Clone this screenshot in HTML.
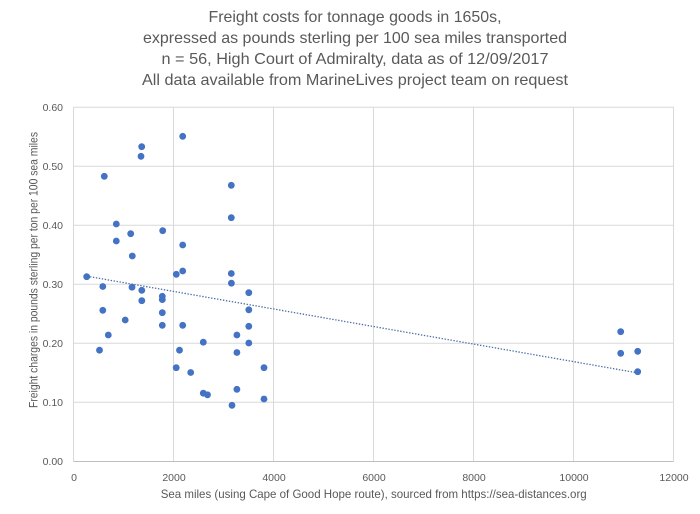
<!DOCTYPE html>
<html><head><meta charset="utf-8"><style>
html,body{margin:0;padding:0;background:#fff;}
svg{display:block;}
text{font-family:"Liberation Sans",Arial,sans-serif;fill:#595959;}
</style></head><body>
<svg width="700" height="514" viewBox="0 0 700 514" xmlns="http://www.w3.org/2000/svg">
<rect width="700" height="514" fill="#fff"/>
<g font-size="16" text-anchor="middle">
<text x="355" y="22" textLength="293" lengthAdjust="spacingAndGlyphs">Freight costs for tonnage goods in 1650s,</text>
<text x="355" y="43" textLength="424" lengthAdjust="spacingAndGlyphs">expressed as pounds sterling per 100 sea miles transported</text>
<text x="355" y="64" textLength="387" lengthAdjust="spacingAndGlyphs">n = 56, High Court of Admiralty, data as of 12/09/2017</text>
<text x="355" y="85" textLength="426" lengthAdjust="spacingAndGlyphs">All data available from MarineLives project team on request</text>
</g>
<g stroke="#d9d9d9" stroke-width="1" fill="none">
<line x1="73.5" y1="107.3" x2="673.5" y2="107.3"/>
<line x1="73.5" y1="166.3" x2="673.5" y2="166.3"/>
<line x1="73.5" y1="225.3" x2="673.5" y2="225.3"/>
<line x1="73.5" y1="284.3" x2="673.5" y2="284.3"/>
<line x1="73.5" y1="343.3" x2="673.5" y2="343.3"/>
<line x1="73.5" y1="402.3" x2="673.5" y2="402.3"/>
<line x1="73.5" y1="107" x2="73.5" y2="461.5"/>
<line x1="173.5" y1="107" x2="173.5" y2="461.5"/>
<line x1="273.5" y1="107" x2="273.5" y2="461.5"/>
<line x1="373.5" y1="107" x2="373.5" y2="461.5"/>
<line x1="473.5" y1="107" x2="473.5" y2="461.5"/>
<line x1="573.5" y1="107" x2="573.5" y2="461.5"/>
<line x1="673.5" y1="107" x2="673.5" y2="461.5"/>
</g>
<line x1="73.5" y1="461.5" x2="673.5" y2="461.5" stroke="#bfbfbf" stroke-width="1"/>
<g font-size="10.5" text-anchor="end">
<text x="63" y="111">0.60</text>
<text x="63" y="170">0.50</text>
<text x="63" y="229">0.40</text>
<text x="63" y="288">0.30</text>
<text x="63" y="347">0.20</text>
<text x="63" y="406">0.10</text>
<text x="63" y="465">0.00</text>
</g>
<g font-size="10.5" text-anchor="middle">
<text x="74" y="481">0</text>
<text x="174" y="481">2000</text>
<text x="274" y="481">4000</text>
<text x="374" y="481">6000</text>
<text x="474" y="481">8000</text>
<text x="574" y="481">10000</text>
<text x="674" y="481">12000</text>
</g>
<text x="373.7" y="498" font-size="12" text-anchor="middle" textLength="426" lengthAdjust="spacingAndGlyphs">Sea miles (using Cape of Good Hope route), sourced from https://sea-distances.org</text>
<text transform="translate(37.5,270) rotate(-90)" font-size="12" text-anchor="middle" textLength="276" lengthAdjust="spacingAndGlyphs">Freight charges in pounds sterling per ton per 100 sea miles</text>
<g fill="#4472c4">
<circle cx="86.7" cy="276.7" r="3.4"/>
<circle cx="104.3" cy="176.3" r="3.4"/>
<circle cx="141.7" cy="146.7" r="3.4"/>
<circle cx="141" cy="156.3" r="3.4"/>
<circle cx="182.7" cy="136.3" r="3.4"/>
<circle cx="116.3" cy="224" r="3.4"/>
<circle cx="116.3" cy="241" r="3.4"/>
<circle cx="130.7" cy="233.7" r="3.4"/>
<circle cx="162.7" cy="230.7" r="3.4"/>
<circle cx="132.3" cy="256" r="3.4"/>
<circle cx="182.7" cy="245" r="3.4"/>
<circle cx="176.3" cy="274.3" r="3.4"/>
<circle cx="182.7" cy="271" r="3.4"/>
<circle cx="231.3" cy="185.3" r="3.4"/>
<circle cx="231.3" cy="217.7" r="3.4"/>
<circle cx="231.3" cy="273.5" r="3.4"/>
<circle cx="231.4" cy="283.2" r="3.4"/>
<circle cx="102.8" cy="286.5" r="3.4"/>
<circle cx="132" cy="287.2" r="3.4"/>
<circle cx="141.8" cy="290.3" r="3.4"/>
<circle cx="162.3" cy="296.3" r="3.4"/>
<circle cx="162.3" cy="299.6" r="3.4"/>
<circle cx="141.8" cy="300.7" r="3.4"/>
<circle cx="102.8" cy="310.3" r="3.4"/>
<circle cx="162.3" cy="312.7" r="3.4"/>
<circle cx="125.2" cy="320" r="3.4"/>
<circle cx="162.3" cy="325.3" r="3.4"/>
<circle cx="182.7" cy="325.3" r="3.4"/>
<circle cx="108.3" cy="335" r="3.4"/>
<circle cx="203.3" cy="342.2" r="3.4"/>
<circle cx="99.5" cy="350.2" r="3.4"/>
<circle cx="179.5" cy="350.2" r="3.4"/>
<circle cx="176.2" cy="367.7" r="3.4"/>
<circle cx="190.7" cy="372.5" r="3.4"/>
<circle cx="203.3" cy="393.2" r="3.4"/>
<circle cx="207.5" cy="394.8" r="3.4"/>
<circle cx="232" cy="405.3" r="3.4"/>
<circle cx="236.9" cy="335" r="3.4"/>
<circle cx="236.9" cy="352.5" r="3.4"/>
<circle cx="236.9" cy="389.3" r="3.4"/>
<circle cx="248.8" cy="292.7" r="3.4"/>
<circle cx="248.8" cy="309.8" r="3.4"/>
<circle cx="248.8" cy="326.3" r="3.4"/>
<circle cx="248.8" cy="343" r="3.4"/>
<circle cx="264" cy="367.7" r="3.4"/>
<circle cx="264" cy="399" r="3.4"/>
<circle cx="620.7" cy="331.7" r="3.4"/>
<circle cx="620.7" cy="353.3" r="3.4"/>
<circle cx="637.7" cy="351.3" r="3.4"/>
<circle cx="637.7" cy="371.7" r="3.4"/>
</g>
<line x1="87" y1="276.2" x2="636" y2="372.6" stroke="#4a6fa8" stroke-width="1.3" stroke-dasharray="1.4 1.6"/>
</svg>
</body></html>
